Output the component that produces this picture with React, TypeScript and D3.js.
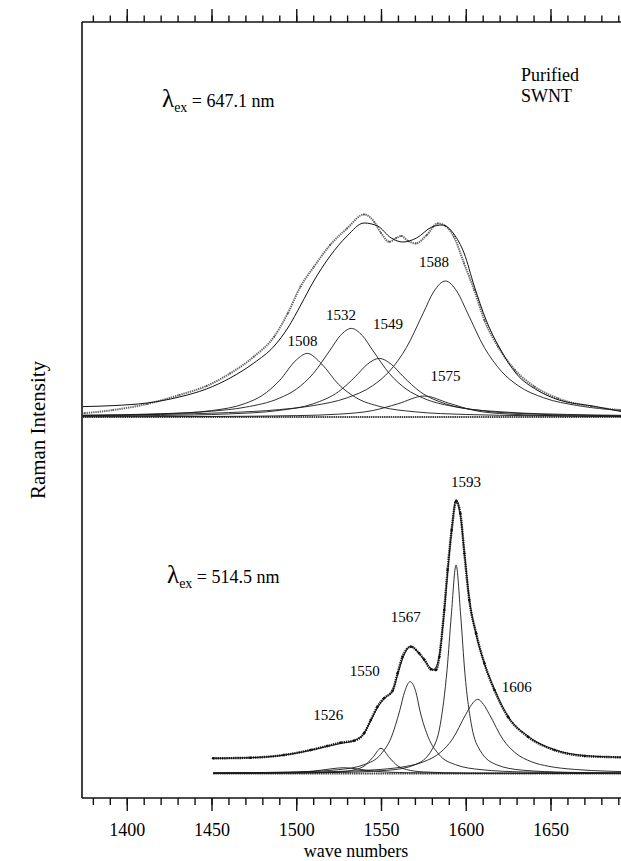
import React, { useEffect, useRef } from "react";
import * as d3 from "d3";

// wave numbers (cm-1) and intensity (arb. units)
type Pt = [number, number];

// --- upper panel, lambda_ex = 647.1 nm ---
const topData: Pt[] = [
  [1375, 1.9], [1392, 3.5], [1412, 6.5], [1431, 11], [1447, 15.5], [1461, 21.8],
  [1475, 30.2], [1487, 40.2], [1495, 51.8], [1502.5, 65.2], [1510.5, 75.2], [1520, 86],
  [1530, 94.3], [1540, 101.3], [1546, 97.6], [1550, 92], [1555, 87.6], [1559, 89.5],
  [1562, 90.5], [1566, 88], [1570.5, 86.8], [1577, 91], [1583.5, 96.8], [1588, 95.5],
  [1593, 90.2], [1599, 76.8], [1605, 63.5], [1611, 48.5], [1619, 35.2], [1629, 23.5],
  [1640.5, 15.2], [1654.5, 9.3], [1674, 5.2], [1691, 3.5],
];
const topFit: Pt[] = [
  [1374, 5.2], [1392, 5.7], [1412, 7], [1431, 10], [1447, 14], [1461, 19.5],
  [1475, 27], [1487, 35.5], [1495, 44.5], [1503, 56.5], [1510, 67.5], [1520, 80.5],
  [1530, 90.5], [1540, 97], [1548, 95.5], [1556, 89.5], [1563, 87.5], [1571, 89.5],
  [1580, 95], [1586, 96], [1593, 91.5], [1599, 82], [1605, 65.5], [1612, 48.5],
  [1620, 34.5], [1630, 21.5], [1642, 13.5], [1655, 8.5], [1675, 5.5], [1692, 2.7],
];
const top1508: Pt[] = [
  [1374, 0.65], [1420, 1.47], [1450, 3.2], [1470, 6.8], [1480, 10.8], [1490, 18.1],
  [1500, 28.5], [1506.5, 31.8], [1515, 26.5], [1525, 16.3], [1535, 9.8], [1550, 5.1],
  [1570, 2.6], [1600, 1.26], [1640, 0.63], [1692, 0.33],
];
const top1532: Pt[] = [
  [1374, 0.85], [1420, 1.63], [1450, 2.9], [1470, 4.9], [1490, 9.4], [1500, 13.9],
  [1510, 21.7], [1520, 33.5], [1526, 40.7], [1532.5, 44.3], [1539, 40.7], [1545, 33.5],
  [1555, 21.7], [1565, 13.9], [1575, 9.4], [1595, 4.9], [1625, 2.37], [1660, 1.28], [1692, 0.83],
];
const top1549: Pt[] = [
  [1374, 0.42], [1420, 0.76], [1460, 1.54], [1490, 3.3], [1510, 6.6], [1525, 12.7],
  [1535, 20.3], [1542, 26.4], [1549, 29.3], [1556, 26.4], [1563, 20.3], [1573, 12.7],
  [1588, 6.6], [1608, 3.3], [1638, 1.54], [1678, 0.76], [1692, 0.62],
];
const top1575: Pt[] = [
  [1374, 0.1], [1450, 0.26], [1500, 0.69], [1525, 1.42], [1545, 3.2], [1560, 6.6],
  [1575.5, 10.5], [1590, 6.9], [1605, 3.3], [1625, 1.48], [1660, 0.56], [1692, 0.29],
];
const top1588: Pt[] = [
  [1374, 0.82], [1420, 1.3], [1460, 2.2], [1490, 3.7], [1510, 5.7], [1530, 9.6],
  [1545, 15.6], [1555, 22.9], [1565, 34.7], [1575, 52.1], [1581, 62.5], [1588, 68],
  [1595, 62.5], [1601, 52.1], [1611, 34.7], [1621, 22.9], [1631, 15.6], [1646, 9.6],
  [1666, 5.7], [1692, 3.3],
];
const topBaseline: Pt[] = [[1374, 0], [1692, 0]];
const topComponents = [top1508, top1532, top1549, top1575, top1588];
const topLabels = ["1508", "1532", "1549", "1575", "1588"];
const topLabelAt: Pt[] = [[1503.7, 35.5], [1526.4, 48.4], [1554.2, 44], [1588, 17.8], [1581.3, 74.9]];

// --- lower panel, lambda_ex = 514.5 nm ---
const lowData: Pt[] = [
  [1451, 7.6], [1473, 7.9], [1492.7, 9.25], [1508.5, 11.75], [1518.3, 13.75], [1526.2, 15.4],
  [1534.1, 16.4], [1540, 20.1], [1544, 26.75], [1547.9, 33.4], [1551.8, 37.6], [1556.8, 41.4],
  [1559.8, 50.1], [1562.7, 58.4], [1567.6, 63.4], [1572.5, 60.1], [1575.5, 57], [1579.5, 52.1],
  [1582.4, 51.75], [1584.4, 58.4], [1587.3, 81.75], [1589.3, 101.75], [1591.7, 121.75],
  [1594.3, 136], [1596.8, 130], [1599.2, 110], [1602.1, 86.75], [1606.1, 70.1], [1611, 55.1],
  [1616.9, 41.75], [1624.9, 28.4], [1636.7, 18.4], [1652.4, 11.75], [1670.2, 8.75], [1692, 8.1],
];
const lowFit: Pt[] = [
  [1451, 7.6], [1473, 7.9], [1493, 9.2], [1508, 11.5], [1518, 13.5], [1526, 15], [1534, 16.5],
  [1540, 20], [1544, 26.5], [1548, 33], [1552, 37.5], [1557, 41.5], [1560, 50], [1563, 58],
  [1567.5, 63.5], [1572.5, 60], [1577, 55], [1581, 52], [1584, 57], [1587, 78], [1589.5, 102],
  [1592, 124], [1594.3, 137], [1597, 128], [1599.5, 108], [1602, 88], [1606, 70], [1611, 55],
  [1617, 42], [1625, 28.5], [1637, 18.5], [1652, 12], [1670, 9], [1692, 8.1],
];
const low1526: Pt[] = [
  [1451, 0.11], [1490, 0.39], [1510, 1.19], [1520, 2.26], [1528, 2.9], [1536, 2.26],
  [1546, 1.19], [1566, 0.39], [1610, 0.09], [1692, 0.03],
];
const low1550: Pt[] = [
  [1451, 0.05], [1500, 0.21], [1525, 0.8], [1535, 2.0], [1540, 3.7], [1545, 7.9],
  [1550, 12.6], [1555, 7.9], [1560, 3.7], [1565, 2.0], [1575, 0.8], [1600, 0.21], [1692, 0.03],
];
const low1567: Pt[] = [
  [1451, 0.26], [1500, 0.78], [1525, 1.93], [1540, 4.4], [1550, 9.7], [1556, 17.9],
  [1561, 31.3], [1564, 41], [1567.2, 45.9], [1570.5, 41], [1573, 31.3], [1578, 17.9],
  [1584, 9.7], [1594, 4.4], [1609, 1.93], [1634, 0.78], [1692, 0.23],
];
const low1593: Pt[] = [
  [1451, 0.13], [1520, 0.47], [1555, 1.69], [1570, 4.34], [1580, 11.8], [1585, 24.6],
  [1589, 52.1], [1591.5, 79.3], [1594.3, 104.25], [1597, 79.3], [1599.5, 50.1], [1603.5, 23.7],
  [1608.5, 11.5], [1618, 4.44], [1633, 1.71], [1660, 0.6], [1692, 0.27],
];
const low1606: Pt[] = [
  [1451, 0.29], [1500, 0.61], [1530, 1.16], [1550, 2.05], [1565, 3.6], [1575, 5.8],
  [1585, 10.5], [1592, 17], [1600, 29.5], [1603.5, 34.5], [1607.1, 37.1], [1610.5, 34.5],
  [1614, 29.5], [1622, 17], [1629, 10.5], [1639, 5.8], [1649, 3.6], [1664, 2.05],
  [1684, 1.16], [1692, 0.95],
];
const lowBaseline: Pt[] = [[1451, 0], [1692, 0]];
const lowComponents = [low1526, low1550, low1567, low1593, low1606];
const lowLabels = ["1593", "1567", "1550", "1526", "1606"];
const lowLabelAt: Pt[] = [[1600.2, 143.1], [1564.6, 75.9], [1540.4, 48.75], [1518.9, 26.75], [1630.1, 40.9]];

const majorTicks = [1400, 1450, 1500, 1550, 1600, 1650];
const minorTicks = d3.range(1380, 1691, 10);

const FONT = "'Liberation Serif', 'Times New Roman', serif";

export default function App() {
  const svgRef = useRef<SVGSVGElement>(null);
  const width = 621;
  const height = 861;
  const left = 82;
  const topY = 22;
  const bottomY = 798;

  useEffect(() => {
    const svg = d3.select(svgRef.current);
    svg.selectAll("*").remove();

    const x = d3.scaleLinear().domain([1373.6, 1691.6]).range([left, width]);
    const yTop = d3.scaleLinear().domain([0, 100]).range([417, 217]);
    const yLow = d3.scaleLinear().domain([0, 100]).range([773.5, 573.5]);

    // frame
    svg.append("line").attr("x1", left).attr("x2", left).attr("y1", topY).attr("y2", bottomY)
      .attr("stroke", "#111").attr("stroke-width", 1.6);

    // top axis (ticks pointing up)
    const topMinor = svg.append("g").attr("transform", `translate(0,${topY})`)
      .call(d3.axisTop(x).tickValues(minorTicks).tickSize(6.5).tickFormat(() => ""));
    const topMajor = svg.append("g").attr("transform", `translate(0,${topY})`)
      .call(d3.axisTop(x).tickValues(majorTicks).tickSize(13).tickFormat(() => ""));

    // bottom axis
    const botMinor = svg.append("g").attr("transform", `translate(0,${bottomY})`)
      .call(d3.axisBottom(x).tickValues(minorTicks).tickSize(7).tickFormat(() => ""));
    const botMajor = svg.append("g").attr("transform", `translate(0,${bottomY})`)
      .call(d3.axisBottom(x).tickValues(majorTicks).tickSize(13).tickPadding(12).tickFormat(d3.format("d")));

    [topMinor, topMajor, botMinor, botMajor].forEach((g) => {
      g.select(".domain").remove();
      g.selectAll("line").attr("stroke", "#111").attr("stroke-width", 1.4);
    });
    botMajor.selectAll("text").attr("font-family", FONT).attr("font-size", 18).attr("fill", "#000");

    [topY, bottomY].forEach((yy) => {
      svg.append("line").attr("x1", left).attr("x2", width).attr("y1", yy).attr("y2", yy)
        .attr("stroke", "#111").attr("stroke-width", 1.6);
    });

    svg.append("text").attr("x", 356).attr("y", 857).attr("text-anchor", "middle")
      .attr("font-family", FONT).attr("font-size", 18).text("wave numbers");

    svg.append("text").attr("transform", "translate(45,430) rotate(-90)").attr("text-anchor", "middle")
      .attr("font-family", FONT).attr("font-size", 21).text("Raman Intensity");

    const drawPanel = (
      y: d3.ScaleLinear<number, number>,
      data: Pt[], fit: Pt[], base: Pt[], comps: Pt[][],
      labels: string[], labelAt: Pt[], dark: boolean,
    ) => {
      const line = d3.line<Pt>().x((d) => x(d[0])).y((d) => y(d[1])).curve(d3.curveMonotoneX);
      const g = svg.append("g");

      g.append("path").attr("d", line(base)).attr("fill", "none")
        .attr("stroke", "#444").attr("stroke-width", 1.8).attr("stroke-dasharray", "1.5,0.7");

      comps.forEach((c) => {
        g.append("path").attr("d", line(c)).attr("fill", "none")
          .attr("stroke", "#1a1a1a").attr("stroke-width", 0.9);
      });

      // measured spectrum
      g.append("path").attr("d", line(data)).attr("fill", "none")
        .attr("stroke", dark ? "#222" : "#6a6a6a").attr("stroke-width", dark ? 2.4 : 2)
        .attr("stroke-dasharray", "1.4,0.8");
      g.selectAll("circle.pt").data(data).join("circle").attr("class", "pt")
        .attr("cx", (d) => x(d[0])).attr("cy", (d) => y(d[1]))
        .attr("r", dark ? 1.3 : 0.9).attr("fill", dark ? "#111" : "#555");

      // fitted envelope
      g.append("path").attr("d", line(fit)).attr("fill", "none")
        .attr("stroke", "#111").attr("stroke-width", 1);

      g.selectAll("text.lbl").data(labels).join("text").attr("class", "lbl")
        .attr("x", (_, i) => x(labelAt[i][0])).attr("y", (_, i) => y(labelAt[i][1]))
        .attr("text-anchor", "middle").attr("font-family", FONT).attr("font-size", 15)
        .text((d) => d);
    };

    drawPanel(yTop, topData, topFit, topBaseline, topComponents, topLabels, topLabelAt, false);
    drawPanel(yLow, lowData, lowFit, lowBaseline, lowComponents, lowLabels, lowLabelAt, true);

    const lambda = (xx: number, yy: number, rest: string) => {
      const t = svg.append("text").attr("x", xx).attr("y", yy).attr("font-family", FONT).attr("font-size", 18);
      t.append("tspan").attr("font-size", 25).text("λ");
      t.append("tspan").attr("font-size", 14).attr("dy", 5).text("ex");
      t.append("tspan").attr("dy", -5).text(` = ${rest}`);
    };
    lambda(162, 107, "647.1 nm");
    lambda(167, 583, "514.5 nm");

    svg.append("text").attr("x", 521).attr("y", 81).attr("font-family", FONT).attr("font-size", 18).text("Purified");
    svg.append("text").attr("x", 521).attr("y", 101.5).attr("font-family", FONT).attr("font-size", 18).text("SWNT");
  }, []);

  return (
    <svg ref={svgRef} width={width} height={height}
      style={{ position: "absolute", left: 0, top: 0, background: "#fff" }} />
  );
}
